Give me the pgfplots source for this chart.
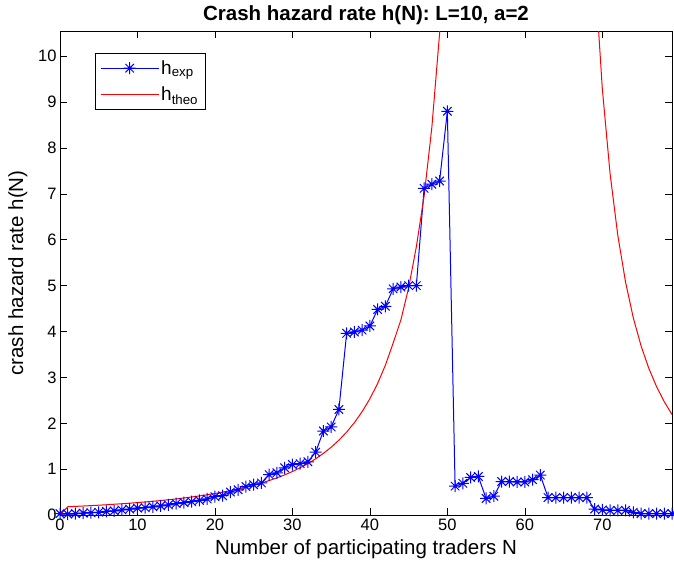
\documentclass[border=0pt]{standalone}
\usepackage{pgfplots}
\pgfplotsset{compat=1.18}
\usepackage{pgfplotstable}
\usepackage{fontspec}
\setmainfont{Liberation Sans}
\pgfdeclareplotmark{mstar}{%
 \pgfpathmoveto{\pgfqpoint{-\pgfplotmarksize}{0pt}}\pgfpathlineto{\pgfqpoint{\pgfplotmarksize}{0pt}}%
 \pgfpathmoveto{\pgfqpoint{0pt}{-\pgfplotmarksize}}\pgfpathlineto{\pgfqpoint{0pt}{\pgfplotmarksize}}%
 \pgfpathmoveto{\pgfqpoint{-0.707\pgfplotmarksize}{-0.707\pgfplotmarksize}}\pgfpathlineto{\pgfqpoint{0.707\pgfplotmarksize}{0.707\pgfplotmarksize}}%
 \pgfpathmoveto{\pgfqpoint{-0.707\pgfplotmarksize}{0.707\pgfplotmarksize}}\pgfpathlineto{\pgfqpoint{0.707\pgfplotmarksize}{-0.707\pgfplotmarksize}}%
 \pgfusepathqstroke}
\pgfplotstableread{
N h
0 0.03
1 0.02
2 0.03
3 0.04
4 0.05
5 0.06
6 0.08
7 0.09
8 0.11
9 0.13
10 0.15
11 0.16
12 0.18
13 0.20
14 0.22
15 0.25
16 0.27
17 0.29
18 0.32
19 0.35
20 0.40
21 0.42
22 0.50
23 0.55
24 0.62
25 0.66
26 0.70
27 0.88
28 0.92
29 1.03
30 1.10
31 1.12
32 1.16
33 1.37
34 1.83
35 1.92
36 2.30
37 3.96
38 3.99
39 4.03
40 4.12
41 4.48
42 4.55
43 4.93
44 4.97
45 5.00
46 5.00
47 7.12
48 7.21
49 7.28
50 8.80
51 0.63
52 0.69
53 0.82
54 0.84
55 0.36
56 0.41
57 0.73
58 0.73
59 0.72
60 0.72
61 0.77
62 0.87
63 0.38
64 0.38
65 0.38
66 0.38
67 0.38
68 0.38
69 0.13
70 0.11
71 0.10
72 0.10
73 0.10
74 0.06
75 0.03
76 0.03
77 0.03
78 0.03
79 0.03
}\hexp
\pgfplotstableread{
N h
0 0
1 0.180
2 0.188
3 0.196
4 0.205
5 0.214
6 0.224
7 0.235
8 0.246
9 0.258
10 0.271
11 0.285
12 0.300
13 0.315
14 0.333
15 0.351
16 0.371
17 0.393
18 0.416
19 0.441
20 0.469
21 0.499
22 0.532
23 0.568
24 0.607
25 0.650
26 0.698
27 0.751
28 0.810
29 0.875
30 0.948
31 1.030
32 1.121
33 1.225
34 1.343
35 1.477
36 1.631
37 1.808
38 2.013
39 2.253
40 2.534
41 2.867
42 3.265
43 3.745
44 4.25
45 4.95
46 5.85
47 6.95
48 8.45
49 10.5
50 13.1
69 11.95
70 9.30
71 7.45
72 6.10
73 5.08
74 4.30
75 3.69
76 3.20
77 2.80
78 2.47
79 2.19
}\htheo
\begin{document}
\begin{tikzpicture}
\begin{axis}[name=ax,
  scale only axis, width=612pt, height=484pt,
  xmin=0, xmax=79, ymin=0, ymax=10.55,
  xtick={0,10,...,70}, ytick={0,1,...,10},
  tick align=inside, major tick length=7pt,
  tick style={black, line width=0.6pt},
  axis line style={black, line width=0.6pt},
  /pgf/number format/assume math mode=true,
  tick label style={font=\fontsize{16.5}{16.5}\selectfont},
  label style={font=\fontsize{20.5}{20.5}\selectfont},
  xlabel style={yshift=-3pt},
  ylabel style={yshift=4pt},
  title style={font=\bfseries\fontsize{20.5}{20.5}\selectfont, yshift=-3pt},
  title={Crash hazard rate h(N): L=10, a=2},
  xlabel={Number of participating traders N},
  ylabel={crash hazard rate h(N)},
  legend style={at={(rel axis cs:0.057,0.954)}, anchor=north west, draw=black, line width=0.6pt,
    font=\fontsize{19}{19}\selectfont, inner xsep=5pt, inner ysep=5pt, row sep=7pt},
  legend cell align=left,
  legend image code/.code={\draw[mark repeat=2,mark phase=2,#1] plot coordinates {(0pt,0pt) (29pt,0pt) (58pt,0pt)};},
]
\addplot[blue, line width=1pt, mark=mstar, mark size=6pt, mark options={line width=1pt}] table[x=N,y=h] {\hexp};
\addlegendentry{h\textsubscript{exp}}
\addplot[red, line width=1pt] table[x=N,y=h] {\htheo};
\addlegendentry{h\textsubscript{theo}}
\end{axis}
\pgfresetboundingbox
\path ([shift={(-60pt,-59pt)}]ax.south west) rectangle ([shift={(2pt,31pt)}]ax.north east);
\end{tikzpicture}
\end{document}
